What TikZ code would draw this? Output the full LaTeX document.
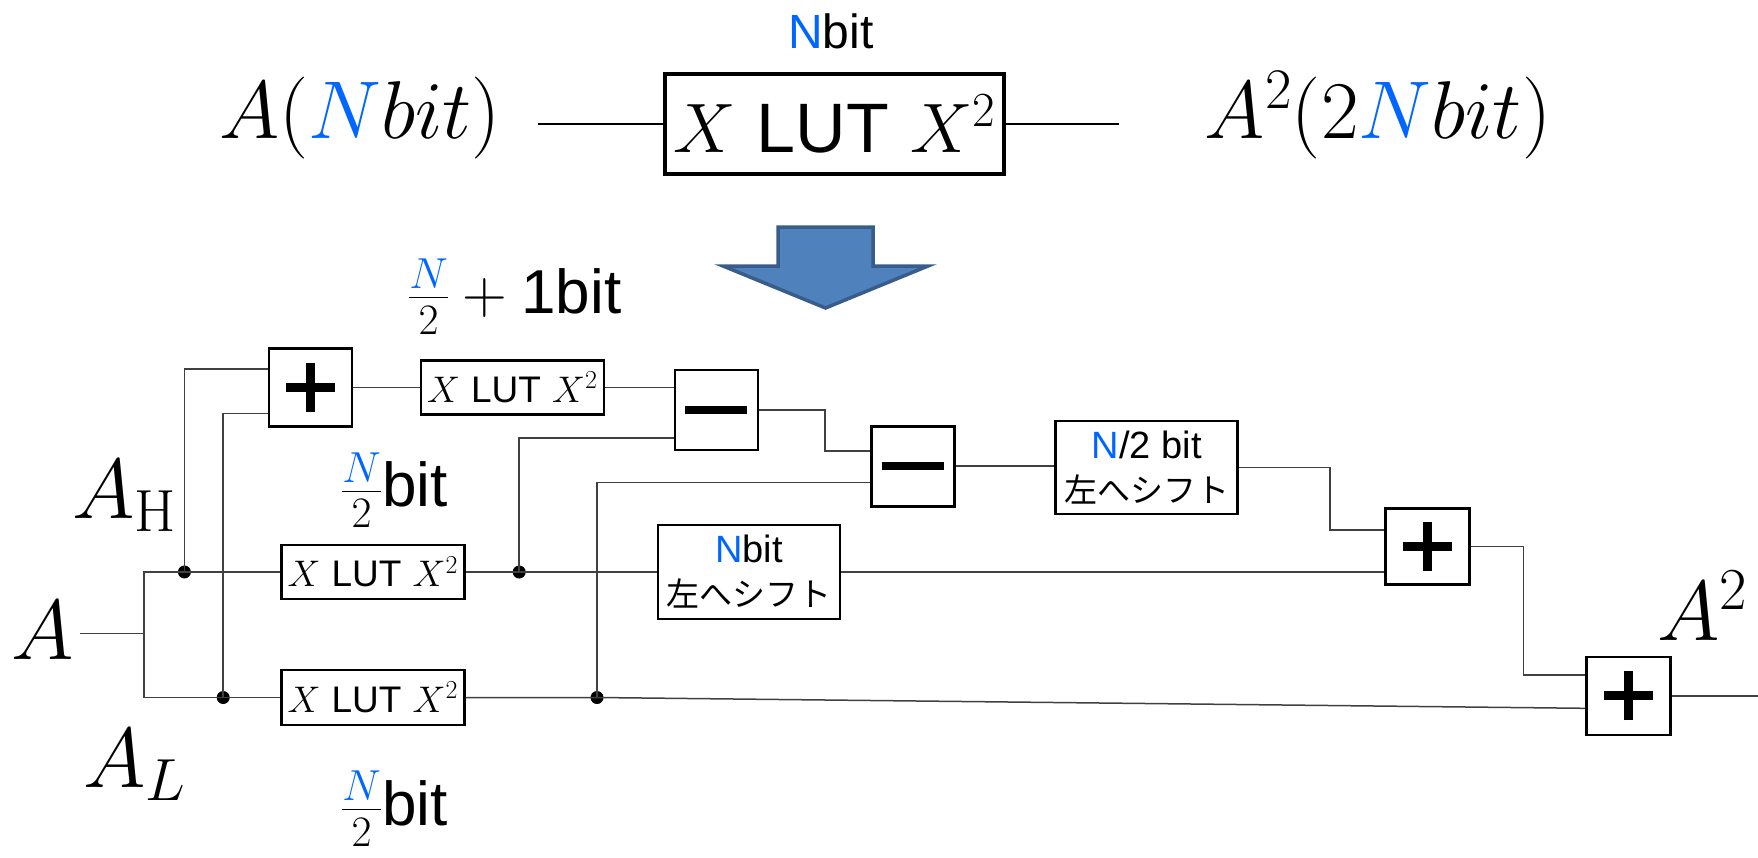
\documentclass[tikz,border=0pt]{standalone}
\usepackage{fix-cm}
\usepackage{fontspec}
\setsansfont{Liberation Sans}
\newfontfamily\jpfont{Noto Sans CJK JP}
\definecolor{nblue}{RGB}{0,102,255}
\definecolor{arrfill}{RGB}{79,129,189}
\definecolor{arrdraw}{RGB}{56,93,138}
\newcommand\luttext{$X$ \textsf{LUT} $X^2$}
\newcommand\plusmark[1]{\draw[line width=9pt] ([xshift=-24.5pt]#1.center) -- ([xshift=24.5pt]#1.center);
  \draw[line width=9pt] ([yshift=-24.5pt]#1.center) -- ([yshift=24.5pt]#1.center);}
\newcommand\minusmark[1]{\draw[line width=8pt] ([xshift=-31pt]#1.center) -- ([xshift=31pt]#1.center);}
\begin{document}
\begin{tikzpicture}[x=1pt,y=-1pt,
  conn/.style={line width=1.5pt, draw=black!75},
  topconn/.style={line width=2.2pt, draw=black},
  blkbox/.style={draw=black, line width=2.6pt, fill=white, inner sep=0pt, align=center},
  lutbox/.style={blkbox, minimum width=183pt, minimum height=54pt, font=\fontsize{37}{44}\selectfont},
  opbox/.style={blkbox, minimum width=83pt, minimum height=78pt},
  shiftbox/.style={blkbox, minimum width=182pt, minimum height=93pt, font=\fontsize{38}{44}\selectfont\sffamily},
  jdot/.style={circle, fill=black, inner sep=0pt, minimum size=13pt},
  mlabel/.style={inner sep=0pt, font=\fontsize{85}{90}\selectfont, anchor=base west},
  flabel/.style={inner sep=0pt, font=\fontsize{62}{70}\selectfont, anchor=base west}]
\useasboundingbox (0,0) rectangle (1758,857);

% ---------- top row ----------
\node[inner sep=0pt, anchor=base, font=\fontsize{48}{52}\selectfont\sffamily] (nbitTop) at (831,48) {\textcolor{nblue}{N}bit};
\node[inner sep=0pt, anchor=base, font=\fontsize{82}{88}\selectfont] (topA) at (360,138) {$A(\textcolor{nblue}{N}bit)$};
\node[inner sep=0pt, anchor=base, font=\fontsize{82}{88}\selectfont] (topA2) at (1378,138) {$A^2(2\textcolor{nblue}{N}bit)$};
\node[blkbox, line width=4.5pt, minimum width=339pt, minimum height=100pt, font=\fontsize{70}{76}\selectfont] (topbox) at (834.3,124) {\luttext};
\coordinate (ltop) at (538,124);
\coordinate (rtop) at (1119,124);
\draw[topconn] (ltop) -- (topbox.west);
\draw[topconn] (topbox.east) -- (rtop);

% big arrow
\draw[fill=arrfill, draw=arrdraw, line width=3.5pt, line join=miter]
  (778,227) -- (873,227) -- (873,266) -- (928,266) -- (825.5,308) -- (723,266) -- (778,266) -- cycle;

\node[flabel] (lblTop) at (408,313) {$\frac{\textcolor{nblue}{N}}{2}+{}$\textsf{1bit}};

% ---------- circuit ----------
\node[opbox] (add1) at (310.3,387.3) {};
\node[lutbox] (lutT) at (512.3,387.3) {\luttext};
\node[opbox, minimum height=80pt] (sub1) at (716.3,410) {};
\node[opbox, minimum height=80pt] (sub2) at (912.8,466.2) {};
\node[shiftbox] (shiftH) at (1146.7,467.5) {\textcolor{nblue}{N}/2 bit\\{\jpfont\fontsize{33}{44}\selectfont 左へシフト}};
\node[opbox, minimum width=84pt, minimum height=76pt] (add2) at (1427.4,546.5) {};
\node[opbox, minimum width=84pt] (add3) at (1628.5,695.8) {};
\node[lutbox] (lutH) at (372.8,572) {\luttext};
\node[lutbox, minimum height=55pt] (lutL) at (372.8,697.5) {\luttext};
\node[shiftbox, minimum height=94pt] (shiftN) at (749,572) {\textcolor{nblue}{N}bit\\{\jpfont\fontsize{33}{44}\selectfont 左へシフト}};

\plusmark{add1}
\plusmark{add2}
\plusmark{add3}
\minusmark{sub1}
\minusmark{sub2}

\node[jdot] (d1) at (184.4,572) {};
\node[jdot] (d2) at (223.2,697.5) {};
\node[jdot] (d3) at (519.2,572) {};
\node[jdot] (d4) at (597,697.5) {};

\coordinate (ain) at (80.4,633.4);
\coordinate (sp) at (144.2,633.4);
\coordinate (out) at (1758,695.8);

\draw[conn] (ain) -- (sp);
\draw[conn] (lutH.west) -| (sp) |- (lutL.west);
\draw[conn] (d1.center) |- ([yshift=18.3pt]add1.west);
\draw[conn] (d2.center) |- ([yshift=-26.2pt]add1.west);
\draw[conn] (add1.east) -- (lutT.west);
\draw[conn] (lutT.east) -- (lutT.east -| sub1.west);
\draw[conn] (d3.center) |- ([yshift=-28pt]sub1.west);
\draw[conn] (sub1.east) -- ++(66,0) |- ([yshift=15.2pt]sub2.west);
\draw[conn] (d4.center) |- ([yshift=-16.3pt]sub2.west);
\draw[conn] (sub2.east) -- (sub2.east -| shiftH.west);
\draw[conn] (shiftH.east) -- ++(91,0) |- ([yshift=16.5pt]add2.west);
\draw[conn] (lutH.east) -- (shiftN.west);
\draw[conn] (shiftN.east) -- (shiftN.east -| add2.west);
\draw[conn] (add2.east) -- ++(53,0) |- ([yshift=20.8pt]add3.west);
\draw[conn] (lutL.east) -- (d4.center) -- ([yshift=-12.5pt]add3.west);
\draw[conn] (add3.east) -- (out);

% labels
\node[mlabel] (lAH) at (72,518.6) {$A_{\mathrm{H}}$};
\node[mlabel] (lAL) at (83,787.5) {$A_L$};
\node[mlabel] (lA) at (11,659) {$A$};
\node[mlabel] (lA2) at (1657,640) {$A^2$};
\node[flabel] (lblMid) at (341,506.6) {$\frac{\textcolor{nblue}{N}}{2}$\textsf{bit}};
\node[flabel] (lblBot) at (341,825) {$\frac{\textcolor{nblue}{N}}{2}$\textsf{bit}};
\end{tikzpicture}
\end{document}
